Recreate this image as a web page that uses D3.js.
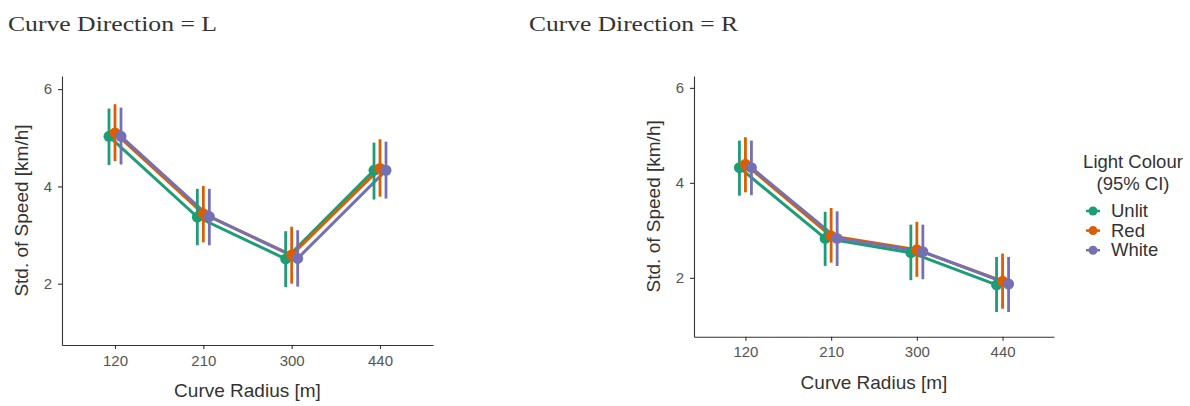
<!DOCTYPE html>
<html><head><meta charset="utf-8">
<script src="https://cdn.jsdelivr.net/npm/d3@7"></script>
<style>body{margin:0;background:#fff}</style>
</head><body>
<script>
const radii = ["120","210","300","440"];
const lights = ["Unlit","Red","White"];
const colors = ["#1B9E77","#D95F02","#7570B3"];
const yTicks = [2,4,6];
// Curve Direction = L
const L_Unlit = [5.03,3.37,2.51,4.33], L_Unlit_lo=[4.44,2.79,1.93,3.73], L_Unlit_hi=[5.60,3.95,3.08,4.90];
const L_Red   = [5.10,3.44,2.59,4.37], L_Red_lo  =[4.52,2.85,2.00,3.79], L_Red_hi  =[5.69,4.01,3.17,4.97];
const L_White = [5.03,3.38,2.52,4.33], L_White_lo=[4.45,2.79,1.94,3.75], L_White_hi=[5.62,3.95,3.10,4.92];
// Curve Direction = R
const R_Unlit = [4.32,2.83,2.53,1.85], R_Unlit_lo=[3.73,2.25,1.95,1.28], R_Unlit_hi=[4.89,3.39,3.12,2.44];
const R_Red   = [4.39,2.88,2.59,1.93], R_Red_lo  =[3.80,2.32,2.02,1.35], R_Red_hi  =[4.96,3.47,3.18,2.51];
const R_White = [4.32,2.83,2.55,1.87], R_White_lo=[3.74,2.25,1.97,1.28], R_White_hi=[4.89,3.40,3.12,2.44];

const panels = [
  {title:"Curve Direction = L", tx:8, x0:62, x1:433, y0:76, y1:345, dom:[0.74,6.27],
   series:[[L_Unlit,L_Unlit_lo,L_Unlit_hi],[L_Red,L_Red_lo,L_Red_hi],[L_White,L_White_lo,L_White_hi]]},
  {title:"Curve Direction = R", tx:529, x0:694, x1:1054, y0:76, y1:336.7, dom:[0.76,6.25],
   series:[[R_Unlit,R_Unlit_lo,R_Unlit_hi],[R_Red,R_Red_lo,R_Red_hi],[R_White,R_White_lo,R_White_hi]]}
];

const svg = d3.select("body").append("svg").attr("width",1190).attr("height",406);
const sans = "Liberation Sans, Arial, sans-serif";
const dodge = 6;

panels.forEach(p=>{
  svg.append("text").attr("x",p.tx).attr("y",31).text(p.title)
    .attr("font-family","Liberation Serif, Times New Roman, serif").attr("font-size",22).attr("fill","#333")
    .attr("textLength",209).attr("lengthAdjust","spacingAndGlyphs");
  const x = d3.scalePoint().domain(radii).range([p.x0,p.x1]).padding(0.6);
  const y = d3.scaleLinear().domain(p.dom).range([p.y1,p.y0]);
  const g = svg.append("g");
  const xa = g.append("g").attr("transform",`translate(0,${p.y1})`)
    .call(d3.axisBottom(x).tickSize(4).tickSizeOuter(0).tickPadding(6));
  const ya = g.append("g").attr("transform",`translate(${p.x0},0)`)
    .call(d3.axisLeft(y).tickValues(yTicks).tickFormat(d3.format("d")).tickSize(4).tickSizeOuter(0).tickPadding(6));
  [xa,ya].forEach(a=>{
    a.attr("font-size",null).attr("font-family",null);
    a.select(".domain").attr("stroke","#333").attr("stroke-width",1.1);
    a.selectAll(".tick line").attr("stroke","#333").attr("stroke-width",1.1);
    a.selectAll(".tick text").style("font-family",sans).style("font-size","15px").attr("fill","#555");
  });
  g.append("text").attr("x",(p.x0+p.x1)/2).attr("y",p.y1+52).attr("text-anchor","middle")
    .attr("font-family",sans).attr("font-size",19).attr("fill","#333").text("Curve Radius [m]");
  g.append("text").attr("transform",`translate(${p.x0-34},${(p.y0+p.y1)/2}) rotate(-90)`)
    .attr("text-anchor","middle").attr("font-family",sans).attr("font-size",19).attr("fill","#333")
    .text("Std. of Speed [km/h]");
  p.series.forEach((s,i)=>{
    const off = (i-1)*dodge;
    const pts = radii.map((r,j)=>({x:x(r)+off, m:s[0][j], lo:s[1][j], hi:s[2][j]}));
    g.append("path").datum(pts).attr("fill","none").attr("stroke",colors[i]).attr("stroke-width",3)
      .attr("d",d3.line().x(d=>d.x).y(d=>y(d.m)));
  });
  p.series.forEach((s,i)=>{
    const off = (i-1)*dodge;
    const pts = radii.map((r,j)=>({x:x(r)+off, m:s[0][j], lo:s[1][j], hi:s[2][j]}));
    g.selectAll(null).data(pts).enter().append("line")
      .attr("x1",d=>d.x).attr("x2",d=>d.x).attr("y1",d=>y(d.lo)).attr("y2",d=>y(d.hi))
      .attr("stroke",colors[i]).attr("stroke-width",2.8);
    g.selectAll(null).data(pts).enter().append("circle")
      .attr("cx",d=>d.x).attr("cy",d=>y(d.m)).attr("r",5.5).attr("fill",colors[i]);
  });
});

// legend
const lg = svg.append("g");
lg.append("text").attr("x",1133).attr("y",168).attr("text-anchor","middle")
  .attr("font-family",sans).attr("font-size",18.5).attr("fill","#333").text("Light Colour");
lg.append("text").attr("x",1133).attr("y",190).attr("text-anchor","middle")
  .attr("font-family",sans).attr("font-size",18.5).attr("fill","#333").text("(95% CI)");
lights.forEach((l,i)=>{
  const cy = 211 + i*19.6;
  lg.append("line").attr("x1",1086).attr("x2",1100).attr("y1",cy).attr("y2",cy)
    .attr("stroke",colors[i]).attr("stroke-width",2.5);
  lg.append("circle").attr("cx",1093).attr("cy",cy).attr("r",4.5).attr("fill",colors[i]);
  lg.append("text").attr("x",1111).attr("y",cy+6).attr("font-family",sans).attr("font-size",18.5)
    .attr("fill","#333").text(l);
});
</script>
</body></html>
